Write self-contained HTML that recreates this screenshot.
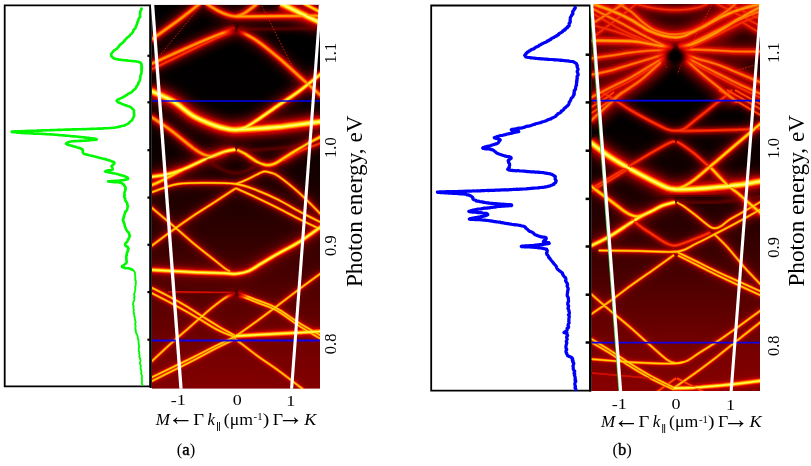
<!DOCTYPE html>
<html><head><meta charset="utf-8"><title>Figure</title>
<style>
html,body{margin:0;padding:0;background:#fff;}
svg{display:block}
text{font-family:"Liberation Serif",serif;fill:#000}
</style></head>
<body>
<svg width="811" height="466" viewBox="0 0 811 466">
<defs>
<filter id="bl1" x="-10%" y="-10%" width="120%" height="120%"><feGaussianBlur stdDeviation="1.0"/></filter>
<filter id="bl3" x="-15%" y="-15%" width="130%" height="130%"><feGaussianBlur stdDeviation="4.5"/></filter>
<filter id="bl2" x="-10%" y="-10%" width="120%" height="120%"><feGaussianBlur stdDeviation="2.4"/></filter>
<filter id="sb" x="-5%" y="-5%" width="110%" height="110%"><feGaussianBlur stdDeviation="0.35"/></filter>
<filter id="sb2" x="-5%" y="-5%" width="110%" height="110%"><feGaussianBlur stdDeviation="0.45"/></filter>
<radialGradient id="blob"><stop offset="0" stop-color="#000"/><stop offset="0.25" stop-color="#100000"/><stop offset="0.45" stop-color="#600000"/><stop offset="0.62" stop-color="#d00800"/><stop offset="0.8" stop-color="#ff6040"/><stop offset="1" stop-color="#fff"/></radialGradient>
<radialGradient id="blob2"><stop offset="0" stop-color="#700000"/><stop offset="0.3" stop-color="#c00400"/><stop offset="0.6" stop-color="#ff4020"/><stop offset="0.85" stop-color="#ffc0a0"/><stop offset="1" stop-color="#fff"/></radialGradient>
<linearGradient id="gA" x1="0" y1="0" x2="0" y2="1">
<stop offset="0" stop-color="#000"/><stop offset="0.30" stop-color="#030000"/><stop offset="0.45" stop-color="#160000"/><stop offset="0.6" stop-color="#300000"/><stop offset="0.75" stop-color="#520000"/><stop offset="0.9" stop-color="#740000"/><stop offset="1" stop-color="#830000"/>
</linearGradient>
<linearGradient id="gB" x1="0" y1="0" x2="0" y2="1">
<stop offset="0" stop-color="#100000"/><stop offset="0.18" stop-color="#000"/><stop offset="0.32" stop-color="#030000"/><stop offset="0.45" stop-color="#160000"/><stop offset="0.6" stop-color="#300000"/><stop offset="0.75" stop-color="#540000"/><stop offset="0.9" stop-color="#780000"/><stop offset="1" stop-color="#880000"/>
</linearGradient>
<clipPath id="cA2"><rect x="150.4" y="4.8" width="169.6" height="384.0"/></clipPath>
<clipPath id="cB2"><rect x="590.4" y="4.0" width="169.60000000000002" height="387.0"/></clipPath>
<clipPath id="cA"><rect x="151.8" y="4.8" width="168.2" height="384.0"/></clipPath>
<clipPath id="cB"><rect x="591.3" y="4.0" width="168.70000000000005" height="387.0"/></clipPath>
<g id="bandsA" fill="none" stroke-linecap="butt" stroke-linejoin="round">
<path id="a-orange" d="M150.0 40.5C153.2 38.2 163.8 30.8 169.5 26.7C175.2 22.6 179.3 19.7 184.4 15.8C189.5 11.9 197.4 5.5 200.0 3.5M206.0 3.5C208.0 4.7 214.3 8.9 218.0 10.8C221.7 12.7 225.0 14.1 228.0 15.0C231.0 15.9 233.5 16.6 236.2 16.3C238.9 16.1 240.4 15.6 244.0 13.5C247.6 11.4 255.2 5.2 257.5 3.5M236.0 16.5C239.2 16.5 246.8 16.5 255.0 16.4C263.2 16.3 273.8 16.1 285.0 16.0C296.2 15.9 315.8 15.7 322.0 15.6M150.0 64.5C156.7 61.5 179.2 51.2 190.0 46.5C200.8 41.8 207.5 39.0 215.0 36.0C222.5 33.0 231.7 30.0 235.0 28.8M237.6 29.8C240.8 31.6 250.1 36.1 257.0 40.8C263.9 45.5 271.6 52.0 278.8 58.0C286.0 64.0 292.8 70.6 300.0 77.0C307.2 83.4 318.3 93.2 322.0 96.5M150.0 116.0C153.6 118.5 164.3 125.5 171.5 130.8C178.7 136.1 187.8 144.1 193.0 148.0C198.2 151.9 200.2 152.9 203.0 154.2C205.8 155.5 207.5 156.0 210.0 156.0C212.5 156.0 215.3 155.1 218.0 154.3C220.7 153.5 224.7 151.8 226.0 151.3"/>
<path id="a-dots" d="M157.0 59.0L203.0 3.0M260.5 3.0L293.5 69.0"/>
<path id="a-bright" d="M281.0 3.5C284.2 5.1 293.2 9.7 300.0 13.0C306.8 16.3 318.3 21.8 322.0 23.5M150.0 90.5C153.8 92.3 165.8 97.0 173.0 101.2C180.2 105.4 186.1 111.8 193.0 115.8C199.9 119.8 208.6 123.2 214.4 125.4C220.2 127.6 224.4 128.3 228.0 129.0C231.6 129.7 231.1 129.9 236.0 129.8C240.9 129.7 250.2 129.1 257.3 128.6C264.4 128.1 271.7 127.7 278.8 127.0C285.9 126.3 292.8 125.2 300.0 124.3C307.2 123.4 318.3 122.0 322.0 121.5"/>
<path id="a-norm" d="M304.0 3.5L322.0 13.0M150.0 186.0C152.5 184.8 159.7 181.7 165.0 179.0C170.3 176.3 179.2 171.5 182.0 170.0M237.2 149.8C238.4 150.4 241.1 151.3 244.4 153.3C247.8 155.3 253.9 160.1 257.3 162.0C260.7 163.9 262.9 164.3 265.0 164.8C267.1 165.3 268.2 165.3 270.0 165.0C271.8 164.7 273.8 164.1 276.0 163.0C278.2 161.9 279.0 161.2 283.0 158.7C287.0 156.2 293.5 151.8 300.0 148.0C306.5 144.2 318.3 138.0 322.0 136.0"/>
<path id="a-red" d="M150.0 70.0C156.7 66.8 179.2 55.8 190.0 50.5C200.8 45.2 207.5 41.9 215.0 38.5C222.5 35.1 231.8 31.6 235.2 30.2M283.0 160.5C285.8 158.9 293.5 154.0 300.0 151.0C306.5 148.0 318.3 143.9 322.0 142.5"/>
<path id="a-faint" d="M238.0 29.5L322.0 28.0M239.0 150.0C242.0 150.0 246.8 150.7 257.0 150.0C267.2 149.3 289.2 147.2 300.0 145.8C310.8 144.4 318.3 142.1 322.0 141.3M206.0 157.0C207.4 158.3 210.9 162.6 214.4 165.0C217.9 167.4 223.4 170.2 227.0 171.5C230.6 172.8 232.8 173.1 236.0 173.0C239.2 172.9 242.4 172.3 246.0 171.0C249.6 169.7 254.6 166.4 257.3 165.0C260.0 163.6 261.2 162.9 262.0 162.5"/>
<path id="a-mid" d="M236.0 129.8C237.7 129.3 242.4 128.6 246.0 127.0C249.6 125.4 251.8 123.7 257.3 120.0C262.8 116.3 272.0 109.7 278.8 105.0C285.6 100.3 290.8 97.3 298.0 92.0C305.2 86.7 318.0 76.2 322.0 73.0M150.0 177.0C152.5 176.6 159.6 176.0 165.0 174.8C170.4 173.6 175.4 172.3 182.2 169.7C189.0 167.1 198.7 162.0 205.8 159.0C212.9 156.0 220.1 153.1 225.0 151.5C229.9 149.9 233.6 149.9 235.3 149.6M150.0 269.8C157.2 270.2 180.5 271.6 193.0 272.2C205.5 272.8 217.9 272.9 225.0 273.2C232.1 273.5 231.9 274.3 235.8 273.9C239.8 273.5 244.4 272.8 248.7 271.0C253.0 269.2 256.6 266.3 261.6 263.3C266.6 260.3 272.4 256.8 278.8 253.2C285.2 249.6 292.8 246.0 300.0 241.5C307.2 237.0 318.3 228.6 322.0 226.0M236.0 336.0C239.6 335.8 246.6 335.4 257.3 334.8C268.0 334.2 289.2 333.2 300.0 332.6C310.8 332.0 318.3 331.5 322.0 331.3"/>
<path id="a-thin" d="M236.0 184.0C237.8 183.3 243.1 181.3 246.6 179.7C250.1 178.1 254.1 175.9 257.0 174.5C259.9 173.1 261.8 171.8 264.0 171.5C266.2 171.2 267.5 171.7 270.0 172.5C272.5 173.3 273.8 172.9 278.8 176.4C283.8 179.9 292.8 187.1 300.0 193.6C307.2 200.1 318.3 211.8 322.0 215.5M150.0 193.0C152.5 192.1 160.3 189.0 165.0 187.5C169.7 186.0 171.6 184.8 178.0 184.0C184.4 183.2 193.9 182.9 203.6 182.9C213.3 182.9 227.1 182.8 236.0 184.0C244.9 185.2 249.9 187.7 257.0 190.4C264.1 193.1 271.6 196.4 278.8 200.0C286.0 203.6 292.8 208.0 300.0 211.8C307.2 215.6 318.3 221.1 322.0 223.0M235.8 188.2C239.4 189.8 250.1 194.6 257.3 198.0C264.5 201.4 271.7 204.9 278.8 208.5C285.9 212.1 292.8 215.9 300.0 219.5C307.2 223.1 318.3 228.2 322.0 230.0M235.8 188.2C232.2 190.5 221.5 197.6 214.4 202.2C207.3 206.8 199.4 211.7 193.0 216.0C186.6 220.3 183.0 222.8 175.8 228.0C168.6 233.2 154.3 243.8 150.0 247.0M150.0 206.3C154.3 209.9 168.6 221.9 175.8 228.0C183.0 234.1 186.6 237.7 193.0 243.0C199.4 248.3 209.1 255.8 214.4 260.0C219.7 264.2 222.4 266.6 225.0 268.5C227.6 270.4 229.2 271.0 230.0 271.5M235.2 293.4C234.7 293.6 234.1 293.6 232.3 294.4C230.5 295.2 228.0 295.9 224.6 298.2C221.2 300.4 215.6 304.8 211.7 307.9C207.8 311.0 205.7 313.1 201.4 316.9C197.1 320.6 191.0 326.0 186.0 330.4C181.0 334.8 177.5 337.6 171.5 343.0C165.5 348.4 153.6 359.7 150.0 363.0M238.0 292.9C241.2 294.1 250.9 297.7 257.3 300.2C263.7 302.7 269.1 304.0 276.2 307.9C283.3 311.8 292.4 318.8 300.0 323.5C307.6 328.2 318.3 334.1 322.0 336.2M239.0 295.3C242.1 296.5 251.1 300.1 257.3 302.6C263.5 305.1 269.1 306.3 276.2 310.3C283.3 314.3 292.4 321.6 300.0 326.5C307.6 331.4 318.3 337.4 322.0 339.6M150.0 286.8C153.3 288.5 164.0 293.8 170.0 297.0C176.0 300.2 180.8 302.9 186.0 306.0C191.2 309.1 196.0 312.4 201.4 315.8C206.8 319.2 212.5 322.9 218.2 326.3C223.9 329.7 232.9 334.4 235.8 336.0M150.0 292.2C153.3 293.9 164.0 299.3 170.0 302.5C176.0 305.7 181.2 308.6 186.0 311.3C190.8 314.0 193.5 315.7 198.9 318.8C204.3 321.9 212.0 327.1 218.2 330.2C224.3 333.3 232.9 336.3 235.8 337.5M236.0 336.0C239.6 333.5 250.2 326.0 257.3 320.8C264.4 315.6 271.7 310.1 278.8 304.7C285.9 299.3 292.8 294.0 300.0 288.6C307.2 283.2 318.3 275.2 322.0 272.5M150.0 378.2C157.2 374.7 182.3 362.6 193.0 357.3C203.7 352.0 207.2 350.0 214.4 346.5C221.6 343.0 232.4 337.9 236.0 336.2M150.0 382.0C157.2 378.4 182.3 366.1 193.0 360.6C203.7 355.1 207.2 352.9 214.4 349.2C221.6 345.5 232.4 340.4 236.0 338.6M236.0 339.5C239.6 342.2 250.2 350.6 257.3 355.8C264.4 361.0 271.7 365.6 278.8 370.8C285.9 376.0 295.8 383.8 300.0 387.0C304.2 390.2 303.3 389.5 304.0 390.0"/>
<path id="a-faint2" d="M168.0 291.7L233.7 292.9"/>
</g>
<g id="bandsB" fill="none">
<path id="b-redF" d="M629.0 2.0C632.8 3.0 644.3 6.5 652.0 7.8C659.7 9.1 667.5 10.0 675.0 10.0C682.5 10.0 691.0 9.1 697.0 7.8C703.0 6.5 708.7 3.0 711.0 2.0M590.0 39.5C595.1 35.6 612.7 22.3 620.5 16.3C628.3 10.3 634.2 5.6 637.0 3.5M590.0 11.8C595.1 14.7 611.8 24.8 620.5 29.3C629.2 33.8 635.9 36.3 642.2 39.0C648.5 41.7 653.9 43.8 658.5 45.6C663.1 47.4 668.1 49.3 670.0 50.0M590.0 24.5C595.0 25.9 610.8 30.1 620.0 33.0C629.2 35.9 637.0 39.1 645.0 42.0C653.0 44.9 664.2 49.1 668.0 50.5M594.0 102.0C596.6 100.2 603.3 94.9 609.5 91.3C615.7 87.7 623.9 84.5 631.0 80.4C638.1 76.4 646.6 70.8 652.4 67.0C658.2 63.2 663.7 59.2 666.0 57.6M690.0 47.7C694.2 45.8 706.8 40.0 715.0 36.0C723.2 32.0 731.2 27.7 739.0 24.0C746.8 20.3 758.2 15.7 762.0 14.0M684.0 57.0C685.8 58.2 689.5 61.3 695.0 64.5C700.5 67.7 709.6 72.2 716.8 76.0C724.0 79.8 730.7 83.2 738.2 87.0C745.7 90.8 758.0 96.6 762.0 98.5M713.5 2.0L762.0 26.8M724.0 2.0L762.0 20.0M741.2 21.7L762.0 34.2"/>
<path id="b-fuzzy" d="M590.0 3.0C593.6 4.3 605.0 8.0 611.9 10.8C618.8 13.6 625.3 16.7 631.4 20.0C637.5 23.3 643.3 27.9 648.7 30.5C654.1 33.1 659.5 34.8 664.0 35.9C668.5 37.0 672.5 37.3 676.0 37.3C679.5 37.3 681.5 36.9 684.8 35.7C688.1 34.6 692.1 32.2 695.7 30.4C699.3 28.6 702.0 27.4 706.5 25.0C711.0 22.6 717.4 18.8 722.8 16.3C728.2 13.8 732.5 11.9 739.0 9.8C745.5 7.7 758.2 4.5 762.0 3.5M590.0 40.6C596.9 40.7 620.9 40.6 631.4 41.2C641.9 41.9 646.7 43.4 653.0 44.5C659.3 45.6 666.6 47.2 669.3 47.7M679.0 47.5C681.7 46.8 689.0 45.5 695.3 43.0C701.6 40.5 709.6 36.2 716.8 32.2C723.9 28.3 730.7 23.7 738.2 19.3C745.7 14.9 758.0 8.2 762.0 6.0"/>
<path id="b-orangeF" d="M616.0 2.0C618.6 3.7 627.0 8.7 631.4 12.0C635.8 15.3 638.6 18.8 642.2 21.7C645.8 24.6 649.4 27.4 653.0 29.3C656.6 31.2 660.2 32.4 664.0 33.2C667.8 34.1 671.7 34.6 676.0 34.4C680.3 34.2 685.8 33.1 690.0 32.0C694.2 30.9 696.4 29.9 701.0 27.5C705.6 25.1 712.9 20.5 717.4 17.6C721.9 14.7 724.9 12.6 728.2 10.0C731.6 7.4 736.0 3.3 737.5 2.0M590.0 25.0L624.8 3.0M590.0 7.5C595.1 10.1 611.8 18.3 620.5 22.8C629.2 27.3 635.0 30.9 642.2 34.7C649.5 38.5 659.0 43.2 664.0 45.6C669.0 48.0 670.7 48.4 672.0 49.0M590.0 58.5C593.2 58.0 602.7 56.8 609.5 55.8C616.3 54.8 623.9 53.5 631.0 52.6C638.1 51.7 645.3 50.9 652.0 50.5C658.7 50.1 667.8 50.3 671.0 50.3M590.0 75.0C593.2 74.3 602.7 72.6 609.5 70.8C616.3 69.0 623.9 66.5 631.0 64.4C638.1 62.3 646.2 59.9 652.4 58.0C658.6 56.1 665.4 53.8 668.0 53.0M590.0 98.0C593.2 96.3 602.7 91.5 609.5 88.0C616.3 84.5 623.9 81.2 631.0 77.3C638.1 73.4 646.4 68.0 652.4 64.4C658.4 60.8 664.6 57.0 667.0 55.5M590.0 121.5C593.6 118.2 606.5 106.5 611.5 102.0C616.5 97.5 615.0 98.2 620.0 94.4C625.0 90.6 634.8 84.8 641.6 79.4C648.4 74.0 657.8 64.9 661.0 62.0M682.7 47.7C686.7 45.7 698.9 39.6 706.5 35.8C714.1 32.0 721.9 28.1 728.2 25.0C734.5 21.9 738.9 19.8 744.5 17.4C750.1 15.0 759.1 11.7 762.0 10.5M680.0 50.3C682.5 50.2 688.9 49.6 695.0 49.6C701.1 49.6 709.6 50.1 716.8 50.4C724.0 50.7 730.7 51.3 738.2 51.5C745.7 51.7 758.0 51.5 762.0 51.5M682.0 52.5C684.2 53.4 689.5 56.0 695.3 58.0C701.1 60.0 709.6 61.9 716.8 64.4C723.9 66.9 730.7 69.9 738.2 73.0C745.7 76.1 758.0 81.3 762.0 83.0M683.0 55.0C685.0 56.2 689.4 59.0 695.0 62.0C700.6 65.0 709.6 69.4 716.8 73.0C724.0 76.6 730.7 80.1 738.2 83.7C745.7 87.3 758.0 92.7 762.0 94.5M686.0 60.0C689.3 62.9 699.1 71.6 706.0 77.3C712.9 83.0 722.3 90.3 727.5 94.4C732.7 98.5 735.4 100.7 737.0 102.0"/>
<path id="b-dots" d="M623.5 2.0C626.5 6.3 636.1 19.8 641.6 28.0C647.1 36.2 652.5 44.8 656.7 51.5C660.9 58.2 665.3 65.2 667.0 68.0M713.5 2.0C710.5 7.8 700.5 26.5 695.3 36.5C690.1 46.5 685.4 56.0 682.4 62.2C679.4 68.5 678.3 72.0 677.5 74.0M736.0 70.8L754.0 65.2"/>
<path id="b-dim" d="M590.0 114.0C593.5 111.7 605.7 103.7 611.0 100.0C616.3 96.3 620.2 93.3 622.0 92.0M590.0 108.0C592.7 106.3 602.0 100.7 606.0 98.0C610.0 95.3 612.7 93.0 614.0 92.0M719.0 90.0C722.5 92.2 732.8 98.7 740.0 103.0C747.2 107.3 758.3 113.8 762.0 116.0M727.0 90.0L762.0 110.0M735.0 90.0L762.0 105.0M676.0 378.3L656.7 392.0M677.0 378.3L703.9 392.0"/>
<path id="b-red" d="M599.0 90.5C601.8 92.2 610.7 97.4 616.0 100.7C621.3 104.0 624.9 106.8 631.0 110.4C637.1 114.0 646.3 119.0 652.4 122.2C658.5 125.4 663.5 128.0 667.4 129.4C671.3 130.8 673.1 130.9 676.0 130.8C678.9 130.7 681.4 130.4 684.6 128.6C687.8 126.8 689.9 124.3 695.3 120.0C700.7 115.7 711.4 107.2 716.8 102.9C722.2 98.6 725.0 96.5 727.5 94.3C730.0 92.1 731.2 90.7 732.0 90.0M676.0 130.8C679.2 130.8 684.9 131.0 695.3 130.8C705.7 130.6 727.1 130.1 738.2 129.7C749.3 129.3 758.0 128.5 762.0 128.3M675.1 141.5C674.2 141.7 673.3 141.1 669.5 142.9C665.7 144.7 658.8 148.5 652.4 152.2C646.0 155.9 638.1 160.7 631.0 165.0C623.9 169.3 616.3 173.9 609.5 178.0C602.7 182.1 593.2 187.4 590.0 189.3M631.0 167.3C627.4 169.5 616.3 176.4 609.5 180.5C602.7 184.6 593.2 190.1 590.0 192.0M676.9 141.6C678.1 142.3 680.9 143.9 684.0 146.0C687.1 148.1 689.8 149.8 695.3 154.4C700.8 159.0 710.3 167.8 716.8 173.7C723.2 179.6 729.0 184.9 734.0 190.0C739.0 195.1 742.1 199.8 746.8 204.0C751.5 208.2 759.5 213.2 762.0 215.0M631.5 218.2C632.8 219.5 636.0 223.1 639.5 225.8C643.0 228.5 648.0 231.5 652.4 234.4C656.8 237.3 662.1 241.2 666.0 243.0C669.9 244.8 671.1 246.2 676.0 245.5C680.9 244.8 689.6 240.9 695.3 238.7C701.0 236.5 707.8 233.5 710.3 232.5"/>
<path id="b-bright" d="M590.0 142.0C593.2 144.4 602.7 151.9 609.5 156.5C616.3 161.1 623.9 165.4 631.0 169.4C638.1 173.4 646.3 177.6 652.4 180.7C658.5 183.8 663.5 186.4 667.4 187.8C671.3 189.2 671.4 189.1 676.0 189.3C680.6 189.5 688.5 189.2 695.3 188.9C702.1 188.6 709.6 187.8 716.8 187.2C723.9 186.5 730.7 186.0 738.2 185.0C745.7 184.0 758.0 181.7 762.0 181.0"/>
<path id="b-norm" d="M676.0 189.3C677.4 188.8 681.4 187.7 684.6 186.0C687.8 184.3 689.9 183.2 695.3 179.0C700.7 174.8 709.6 166.9 716.8 160.8C723.9 154.7 730.7 149.0 738.2 142.6C745.7 136.2 758.0 125.8 762.0 122.5M590.0 185.5C593.2 187.9 603.8 195.8 609.5 200.0C615.2 204.2 620.4 208.5 624.0 211.0C627.6 213.5 628.8 214.1 631.0 215.0C633.2 215.9 635.0 216.5 637.0 216.5C639.0 216.5 642.0 215.2 643.0 215.0M711.0 168.0C713.8 170.8 723.0 180.7 727.5 185.0C732.0 189.3 732.5 188.7 738.2 193.6C744.0 198.5 758.0 211.0 762.0 214.5"/>
<path id="b-mid" d="M590.0 246.3C593.2 244.7 602.7 240.4 609.5 236.5C616.3 232.6 625.6 226.0 631.0 222.6C636.4 219.2 638.0 218.0 641.6 216.0C645.2 214.0 648.8 212.6 652.4 210.8C656.0 209.0 659.2 206.8 663.0 205.4C666.8 204.0 673.0 202.7 675.0 202.2M673.8 388.3C677.4 388.2 688.1 388.0 695.3 387.6C702.5 387.2 709.6 386.5 716.8 385.8C723.9 385.1 730.7 384.6 738.2 383.7C745.7 382.8 758.0 381.0 762.0 380.5"/>
<path id="b-thin" d="M677.0 202.3C678.2 203.0 681.0 204.4 684.0 206.5C687.0 208.6 690.9 211.6 695.3 215.0C699.7 218.4 706.7 224.7 710.3 226.9C713.9 229.1 714.8 228.2 716.8 228.0C718.8 227.8 720.0 226.8 722.0 225.5C724.0 224.2 725.9 222.1 728.6 220.3C731.3 218.5 732.6 217.9 738.2 214.7C743.8 211.5 758.0 203.3 762.0 201.0M598.7 250.5C605.6 250.6 626.8 250.8 640.0 251.0C653.2 251.2 668.8 252.7 678.0 251.5C687.2 250.3 689.9 246.5 695.3 244.0C700.7 241.5 703.2 240.2 710.3 236.5C717.4 232.8 729.4 226.7 738.0 222.0C746.6 217.3 758.0 210.8 762.0 208.5M714.6 234.4C716.8 236.6 723.6 243.0 727.5 247.3C731.4 251.6 735.0 256.2 738.2 260.0C741.4 263.8 742.8 265.7 746.8 270.0C750.8 274.3 759.5 283.3 762.0 286.0M674.0 255.0C670.4 257.6 659.6 265.3 652.4 270.4C645.2 275.5 638.1 280.2 631.0 285.4C623.9 290.6 616.3 296.6 609.5 301.5C602.7 306.4 593.2 312.8 590.0 315.0M678.0 252.5C680.9 253.9 688.8 257.6 695.3 260.8C701.8 264.0 709.6 268.1 716.8 271.5C723.9 274.9 730.7 277.8 738.2 281.2C745.7 284.6 758.0 290.2 762.0 292.0M678.0 255.5C680.9 256.9 688.8 260.9 695.3 264.2C701.8 267.4 709.6 271.5 716.8 275.0C723.9 278.5 730.7 281.5 738.2 285.0C745.7 288.5 758.0 294.2 762.0 296.0M590.0 293.0C593.2 295.8 602.7 304.2 609.5 310.0C616.3 315.8 623.9 321.8 631.0 328.0C638.1 334.2 646.3 341.9 652.4 347.2C658.5 352.5 663.5 357.3 667.4 360.0C671.3 362.7 672.8 363.1 676.0 363.3C679.2 363.5 682.8 362.8 686.7 361.0C690.6 359.2 694.6 355.8 699.6 352.6C704.6 349.4 710.4 346.1 716.8 341.8C723.2 337.5 730.7 332.2 738.2 326.8C745.7 321.4 758.0 312.4 762.0 309.5M590.0 359.0C596.8 359.5 619.3 361.4 631.0 362.2C642.7 362.9 652.5 363.3 660.0 363.5C667.5 363.7 672.0 363.7 676.0 363.4C680.0 363.1 682.7 362.1 684.0 361.9M590.0 338.0C593.2 340.0 602.7 345.7 609.5 350.0C616.3 354.3 623.9 359.5 631.0 364.0C638.1 368.5 645.3 372.9 652.4 376.8C659.5 380.7 670.2 385.7 673.8 387.5M590.0 341.5C593.2 343.4 602.7 348.8 609.5 353.0C616.3 357.2 623.9 362.6 631.0 367.0C638.1 371.4 645.3 375.7 652.4 379.5C659.5 383.3 670.2 388.0 673.8 389.7M673.8 388.0C677.4 385.5 688.1 378.2 695.3 373.0C702.5 367.8 709.6 362.4 716.8 356.9C723.9 351.3 730.7 345.7 738.2 339.7C745.7 333.7 758.0 324.1 762.0 321.0"/>
<path id="b-faint" d="M678.0 202.5C684.5 202.4 702.8 203.2 716.8 202.2C730.8 201.2 754.5 197.4 762.0 196.5"/>
<path id="b-faint2" d="M590.0 372.8L652.4 378.3"/>
</g>
</defs>
<rect width="811" height="466" fill="#fff"/>

<!-- panel a : heat map -->
<g clip-path="url(#cA)" fill="none" stroke-linejoin="round">
<rect x="151.8" y="4.8" width="168.2" height="384.0" fill="url(#gA)"/>
<g filter="url(#sb2)">
<use href="#a-mid" stroke="#800000" stroke-width="20" opacity="0.4" filter="url(#bl3)"/>
<use href="#a-bright" stroke="#900000" stroke-width="24" opacity="0.55" filter="url(#bl3)"/>
<use href="#a-orange" stroke="#780000" stroke-width="18" opacity="0.38" filter="url(#bl3)"/>
<use href="#a-thin" stroke="#780000" stroke-width="14" opacity="0.3" filter="url(#bl3)"/>
<use href="#a-norm" stroke="#780000" stroke-width="18" opacity="0.38" filter="url(#bl3)"/>
<use href="#a-mid" stroke="#a00000" stroke-width="11" opacity="0.5" filter="url(#bl2)"/>
<use href="#a-bright" stroke="#b80000" stroke-width="15" opacity="0.6" filter="url(#bl2)"/>
<use href="#a-red" stroke="#700000" stroke-width="14" opacity="0.32" filter="url(#bl3)"/>
<use href="#a-orange" stroke="#980000" stroke-width="10" opacity="0.5" filter="url(#bl2)"/>
<use href="#a-thin" stroke="#980000" stroke-width="8" opacity="0.45" filter="url(#bl2)"/>
<use href="#a-norm" stroke="#980000" stroke-width="10" opacity="0.5" filter="url(#bl2)"/>
<use href="#a-mid" stroke="#d40000" stroke-width="7.78" opacity="0.8" filter="url(#bl1)"/>
<use href="#a-bright" stroke="#d80000" stroke-width="11.93" opacity="0.8" filter="url(#bl1)"/>
<use href="#a-red" stroke="#880000" stroke-width="8" opacity="0.45" filter="url(#bl2)"/>
<use href="#a-orange" stroke="#d00000" stroke-width="7.8" opacity="0.8" filter="url(#bl1)"/>
<use href="#a-thin" stroke="#d00000" stroke-width="5.06" opacity="0.75" filter="url(#bl1)"/>
<use href="#a-norm" stroke="#d00000" stroke-width="7.5" opacity="0.8" filter="url(#bl1)"/>
<use href="#a-mid" stroke="#ff2800" stroke-width="4.97" opacity="1"/>
<use href="#a-bright" stroke="#ff2800" stroke-width="7.67" opacity="1"/>
<use href="#a-red" stroke="#c00000" stroke-width="5.86" opacity="0.75" filter="url(#bl1)"/>
<use href="#a-orange" stroke="#f82000" stroke-width="4.55" opacity="1"/>
<use href="#a-thin" stroke="#ff3000" stroke-width="2.86" opacity="1"/>
<use href="#a-norm" stroke="#ff2800" stroke-width="4.38" opacity="1"/>
<use href="#a-mid" stroke="#ff8c00" stroke-width="3.46" opacity="1"/>
<use href="#a-bright" stroke="#ff8c00" stroke-width="5.54" opacity="1"/>
<use href="#a-faint" stroke="#600000" stroke-width="6" opacity="0.45" filter="url(#bl2)"/>
<use href="#a-faint2" stroke="#a00000" stroke-width="4.5" opacity="0.5" filter="url(#bl1)"/>
<use href="#a-red" stroke="#e81800" stroke-width="3.05" opacity="1"/>
<use href="#a-orange" stroke="#ff7400" stroke-width="2.73" opacity="1"/>
<use href="#a-thin" stroke="#ff9800" stroke-width="1.87" opacity="1"/>
<use href="#a-norm" stroke="#ff8c00" stroke-width="2.88" opacity="1"/>
<use href="#a-mid" stroke="#ffe000" stroke-width="2.27" opacity="1"/>
<use href="#a-bright" stroke="#ffe000" stroke-width="3.83" opacity="1"/>
<use href="#a-faint" stroke="#900000" stroke-width="1.8" opacity="0.7" filter="url(#bl1)"/>
<use href="#a-faint2" stroke="#d81000" stroke-width="1.7" opacity="0.9" filter="url(#sb2)"/>
<use href="#a-dots" stroke="#e02800" stroke-width="0.9" opacity="0.9" stroke-dasharray="1.7 1.5"/>
<use href="#a-red" stroke="#ff4000" stroke-width="1.34" opacity="0.8"/>
<use href="#a-orange" stroke="#ffa800" stroke-width="1.3" opacity="0.95"/>
<use href="#a-thin" stroke="#ffe400" stroke-width="0.94" opacity="1"/>
<use href="#a-norm" stroke="#ffdc00" stroke-width="1.5" opacity="1"/>
<use href="#a-mid" stroke="#ffff70" stroke-width="0.97" opacity="1"/>
<use href="#a-bright" stroke="#ffff70" stroke-width="1.85" opacity="1"/>
</g>
<ellipse cx="236.4" cy="294" rx="13" ry="7" fill="url(#blob2)" style="mix-blend-mode:multiply"/>
<ellipse cx="236.3" cy="30.5" rx="14" ry="8" fill="url(#blob2)" style="mix-blend-mode:multiply"/>
<line x1="151.8" y1="101.0" x2="320.0" y2="101.0" stroke="#0000f0" stroke-width="1.7"/>
<line x1="151.8" y1="340.5" x2="320.0" y2="340.5" stroke="#1000e8" stroke-width="1.8"/>
</g>
<!-- panel a : spectrum box -->
<g filter="url(#sb)">
<path d="M4.7 5.4H150.2V386.3H4.7Z" fill="none" stroke="#000" stroke-width="1.8"/>
<line x1="150.7" y1="5" x2="150.7" y2="388" stroke="#000" stroke-width="2.2"/>
<line x1="147.4" y1="55.8" x2="150.5" y2="55.8" stroke="#000" stroke-width="2.2"/><line x1="147.4" y1="102.3" x2="150.5" y2="102.3" stroke="#000" stroke-width="2.2"/><line x1="147.4" y1="150.2" x2="150.5" y2="150.2" stroke="#000" stroke-width="2.2"/><line x1="147.4" y1="197.6" x2="150.5" y2="197.6" stroke="#000" stroke-width="2.2"/><line x1="147.4" y1="244.8" x2="150.5" y2="244.8" stroke="#000" stroke-width="2.2"/><line x1="147.4" y1="292.1" x2="150.5" y2="292.1" stroke="#000" stroke-width="2.2"/><line x1="147.4" y1="339.7" x2="150.5" y2="339.7" stroke="#000" stroke-width="2.2"/>
<path d="M141.4 8.5L141.6 9.0L141.4 9.6L140.9 10.3L140.5 11.0L140.2 11.7L140.3 12.7L140.0 13.5L140.1 14.5L140.0 15.4L140.2 16.2L140.0 17.2L139.2 17.8L138.8 18.7L138.4 19.4L138.4 20.1L138.2 20.9L137.5 21.7L137.6 22.5L137.1 23.4L136.8 24.1L136.8 25.0L136.2 25.7L135.9 26.5L135.8 27.2L135.7 27.8L135.0 28.7L134.1 29.3L133.4 30.1L133.4 30.7L133.3 31.3L132.8 32.0L132.3 32.7L131.9 33.4L131.2 34.0L130.2 34.6L129.9 35.3L129.6 35.8L128.8 36.5L127.9 37.1L127.3 37.6L126.6 38.3L126.0 38.8L125.6 39.5L124.8 40.0L124.6 40.7L124.4 41.2L123.5 41.7L122.8 42.4L122.7 42.8L121.7 43.4L121.0 44.0L120.6 44.5L119.7 45.0L119.2 45.7L119.1 46.4L118.3 47.0L117.7 47.5L117.3 48.3L116.8 48.9L115.8 49.4L114.8 50.0L114.1 50.4L113.6 50.9L113.3 51.4L112.3 52.5L111.6 53.4L111.0 54.3L111.3 55.0L111.2 55.8L111.5 56.4L112.4 57.1L112.9 57.6L113.3 58.0L114.3 58.5L116.0 58.9L116.1 59.2L117.0 59.2L117.8 59.3L118.6 59.6L119.7 59.7L120.2 59.7L120.7 59.9L121.8 60.0L122.6 60.0L123.9 60.2L125.0 60.3L126.0 60.4L126.4 60.4L127.1 60.4L127.6 60.6L128.3 60.7L129.9 60.8L131.1 61.0L132.2 61.0L132.6 61.0L133.2 61.1L134.4 61.3L135.6 61.3L136.4 61.5L136.7 61.6L137.9 61.7L138.7 61.8L138.9 62.0L139.3 62.2L140.8 62.8L141.2 63.5L141.6 64.1L141.3 65.1L141.9 66.6L141.4 67.2L142.0 67.9L141.7 68.6L141.3 69.3L141.8 70.3L141.6 71.3L141.4 72.2L141.6 73.0L141.1 73.9L140.8 74.8L140.6 75.7L140.3 76.6L140.2 77.3L140.3 78.2L140.1 79.1L139.9 79.8L139.7 80.6L139.4 81.4L138.7 82.3L138.3 82.9L138.4 83.7L137.9 84.4L137.7 85.2L136.9 85.8L136.4 86.4L136.4 87.1L135.9 87.8L135.7 88.4L135.0 89.0L134.3 89.6L133.6 90.1L132.9 90.7L132.4 91.3L132.1 91.7L131.2 92.4L130.7 92.7L129.4 93.3L128.4 93.7L127.5 94.3L127.3 94.8L126.2 95.2L125.7 95.5L125.3 96.1L124.2 96.5L123.4 96.9L123.3 97.3L122.2 97.6L121.2 98.1L119.9 98.6L119.3 99.0L118.4 99.5L117.3 99.8L117.1 100.3L116.6 100.8L117.2 101.2L117.3 101.6L117.8 102.2L118.8 102.5L119.9 103.1L121.4 103.5L122.1 104.1L122.9 104.3L123.3 104.5L124.5 104.8L125.0 105.2L126.2 105.4L126.8 105.7L127.4 106.0L128.5 106.2L129.5 106.6L130.0 106.8L130.8 107.2L131.4 107.7L132.0 108.3L132.7 109.0L133.6 109.7L133.9 110.5L134.0 111.4L133.8 112.1L134.2 113.0L133.8 113.8L134.2 114.7L134.1 115.7L133.7 116.7L133.2 117.5L133.0 118.5L132.4 119.3L132.2 120.0L131.6 120.6L130.7 121.1L130.0 121.8L129.6 122.2L128.9 122.9L128.9 123.3L128.0 123.7L127.1 124.2L126.1 124.6L125.1 125.1L124.7 125.4L123.8 125.7L123.1 125.7L122.2 125.9L121.9 126.1L121.2 126.3L120.4 126.4L119.8 126.6L119.1 126.6L118.6 126.8L118.3 127.0L117.9 127.1L117.2 127.3L116.2 127.3L115.7 127.4L114.8 127.6L113.2 127.7L112.6 127.8L111.5 127.9L109.8 128.0L108.6 128.2L107.5 128.3L106.9 128.3L106.4 128.3L105.4 128.2L104.5 128.3L103.7 128.4L103.4 128.4L102.9 128.5L102.2 128.4L101.8 128.6L100.9 128.6L100.3 128.5L99.6 128.6L98.4 128.6L97.9 128.6L97.3 128.8L96.4 128.7L95.5 128.8L94.9 128.8L94.1 128.8L92.8 128.8L92.3 128.9L91.4 128.8L90.1 128.9L89.6 129.0L88.9 129.0L88.0 129.0L87.0 129.0L86.5 129.0L85.9 129.2L84.3 129.1L83.7 129.2L82.7 129.1L81.5 129.3L80.5 129.2L79.5 129.2L79.2 129.2L78.5 129.3L77.8 129.3L76.4 129.4L75.5 129.3L74.2 129.4L73.5 129.4L72.4 129.4L71.6 129.5L70.5 129.5L70.2 129.4L69.8 129.6L69.1 129.5L67.9 129.6L67.4 129.6L66.2 129.6L65.1 129.6L64.0 129.8L63.2 129.8L62.3 129.7L61.7 129.7L60.9 129.9L60.5 129.9L59.6 129.9L59.0 129.9L58.0 129.9L57.1 130.0L56.3 130.0L55.0 130.0L54.4 130.0L53.3 130.1L52.1 130.2L51.7 130.1L50.7 130.1L49.7 130.2L48.4 130.2L47.3 130.3L46.6 130.3L46.1 130.4L45.0 130.3L43.8 130.3L42.9 130.4L41.9 130.4L41.2 130.6L40.6 130.5L39.6 130.6L38.6 130.6L37.4 130.6L37.1 130.6L36.2 130.7L35.6 130.7L34.4 130.7L33.5 130.7L33.2 130.8L32.5 130.7L31.1 130.9L30.7 130.9L29.9 130.8L29.0 131.0L28.5 131.0L28.1 130.9L26.8 130.9L26.2 131.1L25.9 131.1L25.2 131.1L24.4 131.1L23.3 131.2L22.7 131.2L22.5 131.1L21.6 131.1L21.4 131.2L19.1 131.2L17.6 131.4L16.1 131.4L15.1 131.4L13.9 131.5L13.7 131.5L13.3 131.6L12.4 131.6L12.5 131.7L11.9 131.6L11.8 131.8L11.7 131.8L12.0 131.9L11.9 131.9L12.1 132.0L12.8 132.1L13.6 132.2L14.2 132.2L15.4 132.3L16.4 132.4L17.1 132.6L18.2 132.8L19.8 132.7L21.2 132.9L22.0 133.0L22.3 133.0L22.8 133.1L23.3 133.0L23.8 133.1L25.1 133.2L26.0 133.2L27.0 133.2L27.2 133.3L28.1 133.2L29.0 133.3L29.5 133.3L30.0 133.3L30.7 133.4L32.1 133.4L33.2 133.4L33.7 133.6L34.8 133.5L35.1 133.6L35.9 133.7L36.6 133.6L38.1 133.6L38.8 133.8L39.9 133.7L40.3 133.8L41.7 133.8L42.7 134.0L43.3 133.9L44.6 134.0L45.0 134.1L45.8 134.1L46.3 134.2L47.8 134.2L49.0 134.2L49.4 134.3L50.7 134.4L51.2 134.4L52.0 134.5L53.2 134.5L54.1 134.6L54.9 134.7L55.6 134.7L56.1 134.8L57.2 134.8L57.6 135.0L58.3 134.9L58.9 135.1L59.9 135.2L61.4 135.3L62.0 135.2L62.6 135.4L63.9 135.4L64.6 135.5L65.7 135.6L66.8 135.7L67.7 135.7L68.8 135.8L69.5 135.9L70.5 136.0L71.0 136.1L71.6 136.2L72.7 136.2L73.5 136.4L74.4 136.4L75.5 136.5L76.7 136.5L77.2 136.7L78.1 136.8L78.3 136.8L78.8 136.9L80.2 137.0L81.2 137.0L82.0 137.1L82.2 137.2L83.2 137.2L83.7 137.4L84.0 137.4L84.3 137.4L84.9 137.6L85.7 137.6L86.9 137.8L88.8 137.9L90.0 138.1L91.6 138.3L92.2 138.3L93.2 138.6L94.3 138.6L94.7 138.8L95.3 138.9L95.7 139.1L96.0 139.2L96.3 139.3L96.8 139.5L96.5 139.5L96.4 139.6L95.3 139.8L94.8 139.9L94.0 140.0L93.2 140.0L91.8 140.1L91.1 140.3L89.7 140.3L88.7 140.4L87.4 140.4L86.6 140.6L85.3 140.6L85.1 140.7L84.0 140.6L83.7 140.8L82.7 140.7L82.1 140.8L81.3 140.9L80.3 140.8L79.4 140.9L78.1 141.0L77.3 141.0L76.0 141.0L75.2 141.1L74.0 141.1L73.5 141.3L72.3 141.3L72.1 141.3L71.7 141.3L71.0 141.5L69.6 141.8L68.2 142.2L67.3 142.7L66.7 143.1L66.0 143.6L66.3 144.0L66.9 144.3L67.3 144.5L68.0 144.8L68.6 145.1L69.4 145.3L70.7 145.5L72.0 145.8L73.2 146.2L73.8 146.4L74.6 146.6L75.8 146.8L76.7 147.2L77.6 147.4L77.9 147.7L78.8 147.9L79.9 148.1L80.7 148.5L80.8 148.7L81.6 148.9L82.6 149.6L83.0 150.3L82.8 151.2L82.6 151.9L83.0 152.6L83.3 153.2L83.7 153.7L84.7 153.9L85.1 154.2L85.6 154.4L86.7 154.6L87.9 154.8L88.6 155.1L89.1 155.3L90.3 155.5L91.5 155.7L92.9 156.0L93.1 156.2L93.7 156.3L94.6 156.5L95.6 156.7L96.3 157.0L97.1 157.1L97.6 157.2L98.1 157.5L99.3 157.7L100.3 158.0L100.8 158.1L102.0 158.2L102.4 158.5L103.2 158.7L104.0 158.9L105.1 159.1L106.0 159.3L106.4 159.6L106.9 159.6L107.9 160.1L109.5 160.4L110.4 160.7L110.9 161.1L112.0 161.4L113.0 161.7L114.0 162.1L114.1 162.4L114.1 162.7L114.5 163.0L114.2 163.7L113.4 164.3L113.1 164.9L111.9 165.6L111.5 166.2L112.0 167.0L112.4 167.8L112.5 168.7L112.7 169.4L111.7 169.7L111.2 169.9L110.3 170.2L108.7 170.3L107.3 170.5L106.2 170.9L105.7 171.1L105.3 171.2L105.1 171.5L105.6 171.7L105.6 171.8L106.6 171.9L107.5 172.1L107.9 172.2L109.0 172.5L110.2 172.6L111.4 172.7L112.0 173.0L113.1 173.2L114.3 173.4L115.1 173.6L116.1 173.8L116.8 174.0L117.7 174.1L118.4 174.4L119.0 174.7L119.9 174.8L120.8 175.2L121.9 175.4L122.6 175.6L123.9 176.0L124.9 176.3L125.2 176.5L125.8 176.7L126.7 177.0L128.0 178.1L127.9 179.1L127.0 179.2L126.2 179.3L126.1 179.7L125.3 179.8L124.5 179.9L123.1 180.1L122.4 180.3L121.2 180.4L119.7 180.6L119.0 180.7L118.2 180.7L117.8 180.8L116.9 180.9L115.1 180.9L114.1 181.0L112.9 181.1L112.0 181.0L111.3 181.0L110.6 181.1L109.2 181.2L109.0 181.3L108.1 181.3L108.2 181.4L108.2 181.5L108.6 181.6L109.1 181.7L109.9 181.6L111.2 181.8L111.8 181.9L112.8 182.0L114.3 182.1L115.6 182.1L116.6 182.2L118.1 182.2L119.2 182.4L119.5 182.5L120.5 182.7L121.5 183.1L122.1 183.5L123.0 184.0L123.8 184.5L124.0 185.0L124.2 185.6L125.0 186.2L125.0 186.7L125.6 187.4L125.2 188.6L125.7 189.2L125.2 189.9L125.3 190.8L124.8 191.6L124.5 192.5L124.5 193.4L124.3 194.4L124.8 195.4L124.2 196.4L124.1 197.2L124.9 198.0L125.2 198.8L125.1 199.6L125.2 200.3L125.7 201.0L126.2 201.9L126.9 202.7L127.3 203.5L127.2 204.3L127.4 205.1L128.0 205.8L127.8 206.6L127.5 207.3L127.4 208.2L127.3 209.0L127.0 209.8L126.5 210.6L125.8 211.4L125.0 212.1L125.1 212.9L124.9 213.6L124.5 214.3L124.3 215.2L124.2 216.1L123.6 216.8L123.7 217.5L123.5 218.4L123.0 219.1L122.8 219.9L123.5 220.8L123.3 221.5L123.6 222.3L123.9 223.1L124.5 223.9L124.6 224.8L124.7 225.6L125.0 226.4L125.2 227.2L125.6 227.9L125.9 228.7L126.0 229.4L126.7 230.3L127.3 231.1L127.7 231.9L128.9 232.6L129.0 233.4L129.4 234.0L129.3 235.0L129.9 235.8L129.7 236.5L129.2 237.2L128.8 237.9L128.8 238.7L128.2 239.4L127.7 240.2L127.5 241.0L127.2 241.7L126.4 242.5L125.9 243.1L125.2 243.9L125.1 244.4L125.2 245.3L125.8 246.0L126.8 246.5L127.9 247.2L127.8 247.8L128.6 248.7L128.1 249.4L128.2 250.0L127.6 250.9L127.7 251.6L127.1 252.4L126.8 253.4L126.6 254.2L126.9 255.1L126.3 255.9L126.3 256.7L126.3 257.4L126.5 258.4L126.2 259.4L126.5 260.3L126.7 261.1L126.8 261.8L126.4 262.5L126.0 263.2L125.2 263.9L124.4 264.7L123.5 265.4L122.3 266.0L122.0 266.5L122.3 267.1L122.5 267.3L123.5 267.4L124.2 267.7L124.4 267.9L125.7 268.1L126.5 268.3L127.6 268.3L128.9 268.4L129.8 268.6L130.3 268.9L130.8 269.0L131.9 269.5L132.4 269.8" fill="none" stroke="#00f800" stroke-width="2.6" stroke-linejoin="round" stroke-linecap="round"/>
<path d="M131.9 269.5L132.4 269.8L133.0 270.3L133.8 270.8L134.5 271.7L134.6 272.3L134.8 273.1L135.1 273.8L135.0 274.5L135.1 275.4L135.4 276.4L135.1 277.5L135.7 278.6L135.3 279.2L135.0 279.8L135.7 280.6L135.7 281.4L136.0 282.1L135.8 282.8L135.8 283.6L135.7 284.4L135.6 285.2L135.6 286.0L135.1 286.9L135.3 287.9L135.2 288.7L135.3 289.7L135.1 290.5L134.8 291.5L134.6 292.2L134.7 293.1L134.2 293.8L133.9 294.5L134.4 295.4L134.7 296.3L134.0 297.1L134.2 298.1L134.5 298.9L134.2 299.7L134.1 300.6L133.7 301.4L133.3 302.4L133.1 303.3L133.0 304.1L133.0 304.8L133.4 305.6L133.7 306.4L133.2 307.2L133.5 308.0L133.7 308.5L133.8 309.7L133.7 310.7L133.5 311.6L133.9 312.3L133.6 313.2L134.2 313.9L134.2 314.8L134.2 315.6L134.5 316.2L134.6 317.1L134.8 317.8L134.7 318.6L134.9 319.4L135.2 320.2L135.2 321.1L135.7 321.9L135.6 322.6L135.1 323.6L135.4 324.3L135.2 325.1L135.7 326.0L135.6 326.7L135.4 327.6L135.3 328.4L135.5 329.2L135.9 330.0L135.5 330.8L135.7 331.6L136.3 332.5L136.0 333.2L136.7 334.0L137.0 334.7L137.5 335.6L137.7 336.4L137.6 337.1L137.9 338.1L137.8 338.9L138.5 339.8L138.6 340.8L138.6 341.5L138.4 342.3L138.8 343.1L138.5 343.9L138.9 344.6L139.0 345.6L139.3 346.4L139.2 347.2L138.8 348.0L138.7 349.0L138.8 349.8L138.9 350.7L138.8 351.5L139.5 352.4L139.1 353.3L139.5 354.1L139.6 355.0L139.6 355.7L139.2 356.7L139.8 357.5L139.9 358.3L140.1 359.2L140.5 360.1L140.6 360.9L140.2 361.6L140.0 362.4L139.8 363.2L140.2 364.2L140.3 365.0L140.9 365.7L140.9 366.6L140.5 367.5L140.5 368.3L140.9 369.2L141.1 370.0L141.1 370.8L141.6 371.8L141.2 372.6L141.1 373.5L141.7 374.6L141.9 375.4L142.0 376.5L142.0 377.5L141.5 378.3L141.9 379.4L142.1 380.2L142.2 381.1L141.8 381.9L141.8 382.6L142.0 383.3L141.9 383.9L142.3 384.5L142.5 384.9" fill="none" stroke="#00f800" stroke-width="1.8" stroke-linejoin="round" stroke-linecap="round"/>
</g>

<g clip-path="url(#cA2)">
<line x1="152.5" y1="4" x2="181.1" y2="390" stroke="#fff" stroke-width="3.3"/>
<line x1="320.4" y1="4" x2="291.5" y2="390" stroke="#fff" stroke-width="3.1"/>
</g>
<!-- panel b : heat map -->
<g clip-path="url(#cB)" fill="none" stroke-linejoin="round">
<rect x="591.3" y="4.0" width="168.70000000000005" height="387.0" fill="url(#gB)"/>
<g filter="url(#sb2)">
<use href="#b-mid" stroke="#800000" stroke-width="20" opacity="0.4" filter="url(#bl3)"/>
<use href="#b-bright" stroke="#900000" stroke-width="24" opacity="0.55" filter="url(#bl3)"/>
<use href="#b-fuzzy" stroke="#800000" stroke-width="24" opacity="0.42" filter="url(#bl3)"/>
<use href="#b-orangeF" stroke="#8c0000" stroke-width="22" opacity="0.55" filter="url(#bl3)"/>
<use href="#b-thin" stroke="#780000" stroke-width="14" opacity="0.3" filter="url(#bl3)"/>
<use href="#b-norm" stroke="#780000" stroke-width="18" opacity="0.38" filter="url(#bl3)"/>
<use href="#b-mid" stroke="#a00000" stroke-width="11" opacity="0.5" filter="url(#bl2)"/>
<use href="#b-bright" stroke="#b80000" stroke-width="15" opacity="0.6" filter="url(#bl2)"/>
<use href="#b-dim" stroke="#700000" stroke-width="12" opacity="0.3" filter="url(#bl3)"/>
<use href="#b-red" stroke="#700000" stroke-width="14" opacity="0.32" filter="url(#bl3)"/>
<use href="#b-redF" stroke="#840000" stroke-width="18" opacity="0.5" filter="url(#bl3)"/>
<use href="#b-fuzzy" stroke="#a00000" stroke-width="14" opacity="0.5" filter="url(#bl2)"/>
<use href="#b-orangeF" stroke="#a00000" stroke-width="12" opacity="0.55" filter="url(#bl2)"/>
<use href="#b-thin" stroke="#980000" stroke-width="8" opacity="0.45" filter="url(#bl2)"/>
<use href="#b-norm" stroke="#980000" stroke-width="10" opacity="0.5" filter="url(#bl2)"/>
<use href="#b-mid" stroke="#d40000" stroke-width="7.78" opacity="0.8" filter="url(#bl1)"/>
<use href="#b-bright" stroke="#d80000" stroke-width="11.93" opacity="0.8" filter="url(#bl1)"/>
<use href="#b-dim" stroke="#800000" stroke-width="8" opacity="0.4" filter="url(#bl2)"/>
<use href="#b-red" stroke="#880000" stroke-width="8" opacity="0.45" filter="url(#bl2)"/>
<use href="#b-redF" stroke="#900000" stroke-width="10" opacity="0.5" filter="url(#bl2)"/>
<use href="#b-fuzzy" stroke="#d40000" stroke-width="9.35" opacity="0.8" filter="url(#bl1)"/>
<use href="#b-orangeF" stroke="#c80000" stroke-width="7.7" opacity="0.75" filter="url(#bl1)"/>
<use href="#b-thin" stroke="#d00000" stroke-width="5.06" opacity="0.75" filter="url(#bl1)"/>
<use href="#b-norm" stroke="#d00000" stroke-width="7.5" opacity="0.8" filter="url(#bl1)"/>
<use href="#b-mid" stroke="#ff2800" stroke-width="4.97" opacity="1"/>
<use href="#b-bright" stroke="#ff2800" stroke-width="7.67" opacity="1"/>
<use href="#b-dim" stroke="#c00000" stroke-width="4.84" opacity="0.7" filter="url(#bl1)"/>
<use href="#b-red" stroke="#c00000" stroke-width="5.86" opacity="0.75" filter="url(#bl1)"/>
<use href="#b-redF" stroke="#b80000" stroke-width="6.6" opacity="0.7" filter="url(#bl1)"/>
<use href="#b-fuzzy" stroke="#f82000" stroke-width="5.5" opacity="0.95" filter="url(#bl1)"/>
<use href="#b-orangeF" stroke="#f01800" stroke-width="4.62" opacity="0.9" filter="url(#bl1)"/>
<use href="#b-thin" stroke="#ff3000" stroke-width="2.86" opacity="1"/>
<use href="#b-norm" stroke="#ff2800" stroke-width="4.38" opacity="1"/>
<use href="#b-mid" stroke="#ff8c00" stroke-width="3.46" opacity="1"/>
<use href="#b-bright" stroke="#ff8c00" stroke-width="5.54" opacity="1"/>
<use href="#b-faint" stroke="#600000" stroke-width="6" opacity="0.45" filter="url(#bl2)"/>
<use href="#b-faint2" stroke="#a00000" stroke-width="4.5" opacity="0.5" filter="url(#bl1)"/>
<use href="#b-dim" stroke="#f02000" stroke-width="2.42" opacity="1"/>
<use href="#b-red" stroke="#e81800" stroke-width="3.05" opacity="1"/>
<use href="#b-redF" stroke="#e01000" stroke-width="3.52" opacity="0.9" filter="url(#bl1)"/>
<use href="#b-fuzzy" stroke="#ff6a00" stroke-width="3.3" opacity="1" filter="url(#sb2)"/>
<use href="#b-orangeF" stroke="#ff5000" stroke-width="2.53" opacity="1" filter="url(#sb2)"/>
<use href="#b-thin" stroke="#ff9800" stroke-width="1.87" opacity="1"/>
<use href="#b-norm" stroke="#ff8c00" stroke-width="2.88" opacity="1"/>
<use href="#b-mid" stroke="#ffe000" stroke-width="2.27" opacity="1"/>
<use href="#b-bright" stroke="#ffe000" stroke-width="3.83" opacity="1"/>
<use href="#b-faint" stroke="#900000" stroke-width="1.8" opacity="0.7" filter="url(#bl1)"/>
<use href="#b-faint2" stroke="#d81000" stroke-width="1.7" opacity="0.9" filter="url(#sb2)"/>
<use href="#b-dots" stroke="#e02800" stroke-width="0.9" opacity="0.9" stroke-dasharray="1.7 1.5"/>
<use href="#b-dim" stroke="#ff5a00" stroke-width="1.1" opacity="0.9"/>
<use href="#b-red" stroke="#ff4000" stroke-width="1.34" opacity="0.8"/>
<use href="#b-redF" stroke="#f83800" stroke-width="1.54" opacity="0.85"/>
<use href="#b-fuzzy" stroke="#ffa000" stroke-width="1.65" opacity="1"/>
<use href="#b-orangeF" stroke="#ff8800" stroke-width="1.21" opacity="0.85"/>
<use href="#b-thin" stroke="#ffe400" stroke-width="0.94" opacity="1"/>
<use href="#b-norm" stroke="#ffdc00" stroke-width="1.5" opacity="1"/>
<use href="#b-mid" stroke="#ffff70" stroke-width="0.97" opacity="1"/>
<use href="#b-bright" stroke="#ffff70" stroke-width="1.85" opacity="1"/>
</g>
<ellipse cx="675.6" cy="56" rx="18.5" ry="14.5" fill="url(#blob)" style="mix-blend-mode:multiply"/>
<line x1="591.3" y1="100.7" x2="760.0" y2="100.7" stroke="#0000f0" stroke-width="1.7"/>
<line x1="591.3" y1="342.6" x2="760.0" y2="342.6" stroke="#1000e8" stroke-width="1.8"/>
</g>
<!-- panel b : spectrum box -->
<g filter="url(#sb)">
<path d="M431.2 5.5H590V390.7H431.2Z" fill="none" stroke="#000" stroke-width="1.8"/>
<line x1="590.3" y1="5" x2="590.3" y2="391.6" stroke="#000" stroke-width="2.3"/>
<line x1="585.6" y1="54.7" x2="590.0" y2="54.7" stroke="#000" stroke-width="2.5"/><line x1="585.6" y1="102.4" x2="590.0" y2="102.4" stroke="#000" stroke-width="2.5"/><line x1="585.6" y1="150.7" x2="590.0" y2="150.7" stroke="#000" stroke-width="2.5"/><line x1="585.6" y1="198.9" x2="590.0" y2="198.9" stroke="#000" stroke-width="2.5"/><line x1="585.6" y1="246.5" x2="590.0" y2="246.5" stroke="#000" stroke-width="2.5"/><line x1="585.6" y1="294.7" x2="590.0" y2="294.7" stroke="#000" stroke-width="2.5"/><line x1="585.6" y1="342.5" x2="590.0" y2="342.5" stroke="#000" stroke-width="2.5"/>
<path d="M575.0 7.5L575.4 7.9L574.9 8.6L574.1 9.2L574.0 10.1L573.2 10.8L572.5 11.8L572.7 12.5L573.0 13.5L572.6 14.3L571.7 14.9L571.5 15.8L570.9 16.7L570.3 17.6L570.3 18.5L570.3 19.2L570.2 20.0L570.0 20.7L570.3 21.6L570.2 22.3L569.5 23.0L569.0 23.6L569.2 24.4L569.2 25.1L569.1 26.0L567.4 26.7L567.6 27.3L567.5 27.7L566.1 28.3L566.0 28.7L564.8 29.3L565.0 29.9L563.7 30.4L562.7 30.9L562.7 31.5L562.0 32.1L560.9 32.7L559.9 33.2L559.0 33.7L558.3 34.2L558.6 34.8L557.6 35.2L556.7 35.5L556.7 36.0L555.4 36.5L554.5 36.8L554.4 37.2L553.4 37.6L552.3 38.1L551.5 38.5L550.9 38.9L551.0 39.3L550.1 39.8L548.9 40.1L548.8 40.6L547.5 40.9L547.1 41.5L545.9 41.9L545.8 42.2L544.8 42.5L543.5 43.1L542.7 43.5L541.9 43.9L541.5 44.2L540.5 44.8L539.4 45.1L539.1 45.6L538.7 45.9L538.4 46.3L536.9 46.7L536.3 47.0L535.3 47.5L535.0 47.8L534.2 48.3L534.3 48.6L533.8 48.9L532.2 49.3L530.8 50.0L530.6 50.5L529.3 50.9L528.8 51.4L528.1 51.9L527.1 52.2L527.2 52.7L527.0 53.0L526.7 53.4L525.9 53.6L525.3 54.6L524.6 55.3L525.2 55.8L525.4 56.1L525.7 56.5L525.7 56.9L527.6 57.3L529.5 57.5L530.1 57.6L530.3 57.7L530.4 57.8L530.7 57.9L531.8 57.9L533.0 58.0L533.9 58.2L534.4 58.1L535.1 58.3L535.8 58.3L537.5 58.5L538.2 58.6L538.9 58.6L539.5 58.6L541.1 58.8L542.4 58.8L543.1 58.9L543.4 59.0L544.8 59.1L545.8 59.2L546.1 59.1L546.9 59.2L547.5 59.3L548.7 59.4L549.3 59.5L550.9 59.5L551.0 59.5L552.5 59.5L553.4 59.7L553.8 59.8L554.1 59.7L555.2 59.8L556.6 59.9L556.9 59.9L558.1 60.0L559.0 60.1L560.1 60.3L560.9 60.2L561.4 60.2L561.4 60.4L562.6 60.4L563.0 60.5L564.5 60.6L565.6 60.8L566.3 60.9L567.8 60.8L569.0 61.1L569.0 61.1L570.0 61.3L570.6 61.4L571.9 61.5L572.9 61.6L573.4 61.7L574.0 62.1L574.4 62.2L574.9 62.8L576.3 63.4L576.6 64.0L576.7 64.7L577.4 65.5L577.0 66.5L577.3 67.2L577.5 67.8L577.9 68.6L578.1 69.5L577.7 70.5L577.2 71.2L577.3 72.3L577.8 73.2L578.1 74.1L578.2 75.0L577.3 75.9L577.0 76.7L577.1 77.6L577.4 78.5L576.8 79.3L577.1 80.4L576.4 81.3L576.9 82.1L576.6 82.9L576.4 83.7L576.3 84.4L576.6 85.2L576.0 85.9L575.7 87.0L575.7 87.7L575.4 88.5L575.6 89.2L574.7 90.0L574.1 90.7L574.6 91.5L574.3 92.1L573.8 93.0L574.3 93.7L574.2 94.5L573.3 95.4L573.2 96.4L572.6 97.1L571.8 97.8L571.2 98.4L570.9 99.1L570.8 99.9L570.3 100.7L570.0 101.4L569.2 102.2L569.1 103.0L569.0 103.7L568.7 104.3L568.2 105.1L567.8 105.6L566.7 106.4L565.7 107.0L565.8 107.4L564.7 108.2L564.0 108.6L563.9 109.2L563.6 109.7L562.6 110.4L561.3 110.9L561.2 111.6L561.2 111.9L560.3 112.6L559.6 113.0L558.6 113.4L557.7 113.9L557.5 114.5L557.1 114.9L556.1 115.4L556.0 116.1L555.7 116.4L554.1 117.1L553.3 117.5L552.3 117.9L551.8 118.2L551.3 118.4L550.9 118.9L549.6 119.1L549.3 119.4L548.1 119.6L547.4 119.9L547.1 120.4L546.4 120.7L545.5 120.9L544.6 121.2L544.1 121.5L542.6 121.8L542.0 122.0L541.4 122.2L540.8 122.6L539.8 122.8L539.0 123.0L538.2 123.2L536.9 123.5L535.5 123.8L535.1 124.1L534.0 124.4L533.6 124.5L532.9 124.8L532.0 125.0L531.7 125.3L530.8 125.6L530.3 125.7L529.2 126.1L527.8 126.2L526.5 126.4L525.8 126.6L525.0 126.9L524.5 127.1L524.5 127.3L524.1 127.5L523.4 127.5L522.1 127.9L520.2 128.1L518.9 128.2L517.7 128.4L517.1 128.5L516.8 128.7L515.6 128.9L514.5 129.0L513.9 129.2L512.8 129.3L512.1 129.3L511.6 129.5L511.2 129.8L511.4 130.0L512.7 130.0L514.4 130.4L514.8 130.6L516.2 130.7L518.0 130.9L518.5 131.2L518.7 131.4L518.8 131.6L518.1 131.7L517.4 131.9L516.2 132.0L515.5 132.2L514.5 132.5L513.5 132.6L512.6 132.9L511.9 133.1L511.3 133.4L510.1 133.5L508.3 133.9L507.8 134.0L506.7 134.1L506.1 134.4L505.2 134.7L504.4 134.8L502.9 135.2L502.5 135.4L500.7 135.5L499.7 135.8L499.1 136.0L498.3 136.2L496.9 136.6L496.5 136.8L495.8 137.0L495.0 137.2L495.1 137.5L494.2 137.5L494.7 138.0L495.5 138.2L496.3 138.5L497.8 138.8L499.0 139.2L499.5 139.4L500.3 139.9L500.1 140.3L499.5 141.0L498.9 141.5L498.7 142.2L498.1 142.9L497.2 143.5L496.1 143.9L495.0 144.0L494.8 144.4L493.7 144.5L492.8 144.9L491.8 145.0L491.2 145.4L490.6 145.7L489.8 145.9L488.8 146.1L487.2 146.4L486.8 146.7L485.4 146.8L484.5 147.1L483.8 147.3L483.0 147.5L483.2 147.7L483.4 147.9L482.7 148.2L483.6 148.3L483.4 148.5L484.4 148.6L486.0 148.8L487.2 148.7L488.0 149.0L488.5 149.0L490.0 149.3L490.5 149.4L491.2 149.6L492.4 149.6L493.0 150.2L493.9 150.7L494.4 151.2L495.5 151.8L495.8 152.3L496.5 152.9L497.5 153.3L498.2 153.7L499.0 154.0L499.8 154.3L500.7 154.5L501.1 154.8L502.1 155.0L502.6 155.2L503.7 155.6L504.2 155.6L504.7 155.9L505.7 156.2L506.4 156.3L507.3 156.5L509.1 156.6L509.5 156.9L510.6 157.2L510.8 157.3L511.1 157.5L511.2 158.2L510.9 158.6L509.6 159.3L508.5 160.1L508.1 160.8L508.7 161.6L508.5 162.6L509.4 163.4L509.6 164.6L509.7 165.3L509.2 166.3L509.3 167.3L508.4 168.3L507.6 169.2L508.7 169.7L508.5 169.9L509.1 170.1L510.1 170.2L510.4 170.2L511.0 170.3L512.5 170.4L513.3 170.6L513.7 170.6L514.3 170.7L514.9 170.7L516.7 170.8L517.1 170.7L518.6 170.7L519.6 170.9L521.2 171.0L522.3 171.0L523.3 171.1L524.2 171.1L524.9 171.2L525.3 171.3L525.4 171.4L526.1 171.3L526.6 171.4L527.7 171.6L528.6 171.6L529.2 171.6L530.3 171.8L531.8 171.8L532.0 171.8L533.3 171.8L534.3 171.9L534.5 172.1L536.0 172.0L536.9 172.1L537.5 172.2L538.1 172.2L538.9 172.3L539.4 172.3L540.6 172.4L541.8 172.5L542.5 172.6L543.7 172.6L544.0 172.8L545.3 173.1L545.8 173.1L547.2 173.3L547.5 173.4L548.1 173.5L549.0 173.7L550.4 173.9L551.0 174.2L551.9 174.4L552.1 174.5L552.5 174.7L553.5 175.4L554.9 176.1L555.4 176.8L555.0 177.5L555.2 178.3L555.1 179.0L555.7 179.9L556.3 180.8L555.6 181.7L555.8 182.5L554.7 183.3L553.8 183.7L554.2 184.0L553.8 184.4L552.6 184.8L552.3 185.0L551.0 185.3L550.6 185.7L549.5 186.1L548.5 186.2L547.0 186.6L545.5 186.9L545.3 186.9L545.0 186.9L544.9 187.2L544.4 187.2L543.0 187.3L542.1 187.4L541.3 187.5L541.2 187.5L540.4 187.5L539.0 187.6L539.1 187.9L538.3 187.8L537.5 188.0L536.4 188.0L535.8 188.0L534.4 188.1L533.2 188.2L532.7 188.2L531.9 188.3L531.1 188.4L530.3 188.4L529.5 188.5L529.0 188.6L527.7 188.7L526.7 188.8L525.9 188.9L524.7 189.0L524.1 189.0L522.7 189.0L522.1 189.1L521.3 189.1L520.4 189.2L519.5 189.1L519.1 189.3L518.6 189.3L518.0 189.3L517.1 189.2L515.7 189.4L515.0 189.4L513.8 189.5L513.3 189.4L512.4 189.5L511.5 189.5L511.4 189.7L510.7 189.7L509.6 189.7L508.4 189.8L507.8 189.8L506.5 189.8L505.5 189.8L505.6 189.7L504.3 189.8L503.4 189.8L503.2 190.0L502.1 189.9L501.3 189.9L499.8 190.1L499.0 190.1L498.9 190.2L497.9 190.1L496.8 190.2L496.5 190.1L495.9 190.2L494.8 190.2L494.3 190.4L492.8 190.3L491.6 190.4L490.5 190.3L490.3 190.4L490.0 190.5L489.2 190.4L488.4 190.6L487.3 190.4L486.0 190.5L485.6 190.5L484.3 190.6L483.8 190.7L482.8 190.7L482.4 190.7L481.0 190.7L480.8 190.8L479.4 190.8L478.1 190.9L477.4 190.9L476.7 190.8L476.1 190.9L474.9 191.0L473.7 190.9L473.4 190.9L472.3 191.0L471.2 191.1L471.3 191.0L470.2 191.2L469.2 191.2L468.4 191.1L467.7 191.2L466.7 191.2L466.3 191.2L465.4 191.3L464.8 191.3L464.4 191.2L463.6 191.3L462.7 191.3L461.6 191.4L461.2 191.5L459.9 191.4L459.0 191.5L458.5 191.4L458.0 191.5L457.0 191.6L455.5 191.5L454.0 191.6L453.1 191.6L452.0 191.7L450.6 191.8L449.9 191.7L449.3 191.7L447.6 191.7L446.2 191.7L445.6 191.8L444.4 191.8L443.2 191.9L442.2 191.8L441.3 191.9L441.3 191.9L440.0 191.9L439.4 191.9L439.6 191.9L438.9 192.1L439.0 192.0L438.3 192.1L437.4 192.0L438.0 192.1L437.8 192.2L437.8 192.1L437.6 192.4L438.5 192.4L438.7 192.3L439.4 192.4L440.0 192.6L440.6 192.5L442.1 192.6L442.1 192.6L443.3 192.6L444.1 192.8L445.6 192.9L446.9 192.9L447.5 193.0L448.3 193.1L449.1 193.0L450.0 193.2L450.9 193.1L452.0 193.3L453.2 193.3L455.2 193.5L456.5 193.4L457.1 193.4L458.2 193.6L458.7 193.6L459.2 193.7L460.1 193.9L461.3 193.8L461.8 193.9L463.0 194.0L464.6 194.2L466.1 194.2L466.5 194.5L466.8 194.8L467.6 194.9L468.5 194.9L469.0 195.2L469.2 195.4L470.2 195.6L470.7 196.0L471.6 196.4L472.4 197.1L473.0 197.8L472.7 198.4L473.1 199.2L473.9 199.8L475.7 200.3L475.8 200.6L476.1 200.7L476.3 201.0L477.4 201.2L478.8 201.2L479.5 201.5L479.7 201.6L480.8 201.8L481.9 201.8L482.7 201.9L483.2 202.1L483.5 202.3L484.4 202.4L485.2 202.5L486.3 202.7L487.0 202.9L487.9 202.9L489.0 203.1L489.7 203.2L491.0 203.3L492.1 203.3L492.8 203.4L493.2 203.5L493.9 203.6L495.3 203.7L496.3 203.7L497.0 203.8L498.9 203.9L499.6 204.0L500.4 204.1L501.8 204.3L502.8 204.2L504.4 204.3L505.3 204.4L506.0 204.4L506.6 204.6L508.0 204.5L509.1 204.5L509.1 204.7L509.6 204.7L510.9 204.7L510.8 204.8L511.5 204.9L511.1 205.0L511.4 205.0L511.7 205.2L511.7 205.3L511.5 205.5L511.5 205.4L510.4 205.7L509.4 205.7L508.9 205.8L508.4 205.9L506.6 206.0L505.6 206.0L504.3 206.1L503.5 206.2L501.9 206.2L500.7 206.3L499.7 206.4L498.2 206.5L497.0 206.7L495.9 206.8L495.9 206.9L494.8 207.1L494.6 207.0L493.4 207.2L493.0 207.3L492.2 207.3L491.4 207.4L490.1 207.6L489.7 207.8L488.7 207.8L487.9 207.9L487.2 208.1L485.6 208.1L485.1 208.2L483.8 208.2L483.2 208.5L483.0 208.5L482.2 208.6L481.4 208.8L481.0 209.0L479.4 209.0L478.0 209.1L476.8 209.4L476.5 209.5L475.0 209.7L474.0 210.0L472.7 210.2L472.2 210.5L470.9 210.6L470.3 210.9L470.2 211.0L469.7 211.2L469.6 211.3L468.8 211.4L469.6 211.6L469.7 211.6L469.9 211.7L470.6 211.8L471.6 211.9L472.1 212.1L473.0 212.1L473.6 212.1L475.5 212.2L476.0 212.3L477.2 212.5L478.0 212.6L479.2 212.5L480.6 212.6L480.7 212.7L481.8 212.8L482.7 213.1L484.5 213.3L485.3 213.4L486.5 213.4L486.6 213.6L487.0 213.8L487.6 214.1L487.7 214.3L487.2 214.5L487.8 214.7L487.1 215.1L486.5 215.4L485.2 215.7L484.5 216.0L483.7 216.1L482.7 216.5L481.8 216.6L481.1 216.7L479.9 216.9L478.4 217.1L477.5 217.4L476.1 217.6L474.8 217.7L474.4 217.9L472.7 218.0L472.2 218.2L471.7 218.4L471.1 218.5L469.9 218.6L469.7 218.9L469.3 219.0L469.7 219.0L470.2 219.3L470.4 219.3L470.9 219.4L471.2 219.5L472.2 219.5L472.8 219.4L474.1 219.4L474.7 219.6L476.3 219.6L476.7 219.6L478.4 219.6L479.3 219.7L480.3 219.7L481.3 219.9L482.6 220.0L483.3 220.0L483.7 220.2L485.1 220.2L486.2 220.3L486.7 220.3L487.5 220.5L488.3 220.5L489.1 220.7L489.9 220.8L491.2 220.8L491.6 221.1L492.6 221.1L493.5 221.4L494.0 221.5L494.3 221.7L495.3 221.6L496.7 221.8L497.9 222.0L498.8 222.1L499.9 222.1L500.7 222.4L500.8 222.6L501.5 222.6L502.7 222.7L503.0 222.9L503.3 223.0L504.7 223.1L505.1 223.3L506.4 223.4L507.0 223.6L508.0 223.5L508.5 223.7L508.9 223.9L510.5 224.1L510.9 224.1L511.8 224.3L513.0 224.5L513.4 224.6L514.1 224.6L515.7 224.8L516.1 224.9L517.0 224.9L517.6 225.0L518.7 225.2L519.5 225.4L519.8 225.4L520.8 225.6L521.0 225.7L522.3 226.0L522.6 226.0L524.3 226.5L525.1 226.9L525.4 227.3L525.5 227.9L526.2 228.4L526.8 228.8L527.5 229.4L528.0 229.9L528.6 230.4L529.2 230.9L529.8 231.4L531.0 231.7L532.2 232.2L533.0 232.8L533.4 233.1L533.9 233.7L534.6 234.3L535.1 234.7L536.2 235.0L536.8 235.4L538.0 235.7L538.5 236.1L539.8 236.4L540.6 236.6L540.9 236.8L541.5 236.9L542.6 237.1L543.9 237.2L545.2 237.4L545.0 237.5L545.7 237.6L546.1 237.9L546.3 238.5L545.9 239.3L545.1 239.9L544.1 240.6L543.7 241.3L543.3 241.5L544.1 241.9L545.1 242.2L546.2 242.3L547.2 242.6L548.8 242.7L549.0 243.1L549.3 243.4L548.8 243.5L548.8 243.6L547.8 243.7L546.7 243.9L546.8 244.0L545.3 244.0L544.7 244.2L543.3 244.4L542.4 244.4L541.1 244.6L539.9 244.6L539.3 244.7L538.8 244.8L537.6 244.9L536.5 245.1L535.9 245.2L535.5 245.2L534.7 245.2L534.0 245.4L532.4 245.5L531.6 245.7L530.1 245.5L528.5 245.8L527.9 245.8L526.4 245.9L525.1 245.9L524.3 246.1L524.0 246.2L522.8 246.1L521.9 246.2L521.3 246.4L521.2 246.4L521.4 246.5L522.0 246.5L521.8 246.7L521.8 246.6L522.5 246.6L522.7 246.7L523.4 246.7L524.1 246.8L524.4 247.0L525.1 246.9L526.6 246.9L527.4 246.9L528.6 247.0L529.9 247.0L531.4 247.2L531.7 247.2L533.6 247.2L534.5 247.4L535.2 247.4L535.9 247.4L536.9 247.5L537.4 247.6L538.6 247.8L539.1 247.8L540.1 248.0L541.7 248.1L543.1 248.3L543.4 248.5L543.8 248.7L545.2 248.8L545.5 249.1L546.6 249.2L546.4 249.5L546.5 249.7L547.3 250.5L547.2 251.0L547.1 252.0L546.5 252.8L546.7 254.0L546.9 254.6L547.6 255.0L548.0 255.6L548.4 256.2L548.6 256.8L548.6 257.4L549.7 258.0L549.8 258.9L550.8 259.5L551.0 260.1L551.6 260.9L552.4 261.6L552.7 262.1L553.4 262.9L553.6 263.5L554.3 264.0L554.9 264.8L555.7 265.6L556.2 266.3L556.5 267.0L556.6 267.6L556.9 268.3L557.4 268.9L557.8 269.5L558.7 270.1L559.3 270.8L560.5 271.4L561.0 272.1L562.1 272.6L562.5 273.2L562.5 273.9L563.1 274.4L563.0 275.1L563.6 275.7L564.1 276.4L564.7 277.2L565.5 277.7L565.6 278.3L566.0 279.0L565.8 279.9L565.5 280.6L566.1 281.3L566.2 282.1L567.1 283.1L567.4 283.9L567.6 284.9L567.0 285.7L567.3 286.3L567.6 287.1L568.0 287.9L568.0 288.5L568.3 289.3L567.7 290.1L567.9 290.8L567.5 291.6L567.6 292.5L567.4 293.3L567.2 294.3L567.2 295.1L567.3 296.1L568.0 297.0L568.4 298.1L568.3 299.0L568.5 300.0L568.5 300.8L568.6 301.4L567.8 302.4L567.9 303.1L567.7 303.9L567.9 304.8L568.6 305.7L568.6 306.5L568.2 307.6L567.9 308.5L568.4 309.2L568.9 310.1L568.8 311.1L569.3 312.0L569.4 312.9L569.3 313.8L568.4 314.8L569.1 315.7L569.4 316.5L569.1 317.2L569.0 318.0L568.9 318.8L568.8 319.5L569.0 320.2L568.8 320.8L568.7 321.5L569.2 322.9L568.3 324.1L568.0 325.2L568.5 326.2L568.6 327.0L568.4 327.7L567.1 328.3L567.1 328.9L567.0 329.5L567.2 329.9L566.3 331.2L564.8 331.7L564.8 332.3L563.9 332.6L565.0 332.8L565.8 332.5L567.0 332.8L566.8 334.3L567.4 335.0L567.7 335.4L567.3 336.0L566.7 336.8L566.6 337.5L566.9 338.3L567.2 339.2L566.8 340.2L566.4 340.9L566.3 341.9L566.9 342.9L566.5 343.9L566.2 344.9L566.1 345.9L565.9 346.7L565.9 347.7L566.4 348.7L566.8 349.5L566.1 350.4L565.9 351.1L566.1 352.0L566.1 352.5L566.8 353.3L566.6 353.6L567.4 355.0L567.6 355.7L568.1 356.0L569.1 356.4L569.9 356.6L570.1 356.7L570.9 357.1L572.2 357.9L571.9 358.6L572.8 359.3L572.6 359.9L572.3 360.5L573.2 361.1L572.7 361.9L573.4 362.7L573.9 363.4L573.5 364.2L573.3 365.3L572.9 366.0L573.2 366.9L573.3 367.9L573.2 369.0L573.7 370.0L574.3 370.7L574.8 371.3L574.2 372.1L574.1 373.1L574.8 373.9L574.3 374.8L574.6 375.7L575.1 376.8L575.0 377.6L575.4 378.6L574.9 379.6L575.6 380.4L575.8 381.4L575.1 382.3L574.9 383.3L574.9 384.1L574.9 385.1L575.3 385.9L575.5 386.5L575.1 387.2L575.0 387.9L575.6 388.5L575.8 389.1L575.7 389.5" fill="none" stroke="#0000f8" stroke-width="3.2" stroke-linejoin="round" stroke-linecap="round"/>
</g>

<g clip-path="url(#cB2)">
<line x1="589.9" y1="3" x2="619.0" y2="392" stroke="#30c030" stroke-width="1.0"/>
<line x1="591.6" y1="3" x2="620.7" y2="392" stroke="#fff" stroke-width="3.1"/>
<line x1="760.9" y1="3" x2="731.1" y2="392" stroke="#fff" stroke-width="3.1"/>
</g>
<!-- labels -->
<text transform="translate(335.9 53.1) rotate(-90) scale(1.000 1)" font-size="16.5" text-anchor="middle">1.1</text>
<text transform="translate(335.9 147.6) rotate(-90) scale(1.000 1)" font-size="16.5" text-anchor="middle">1.0</text>
<text transform="translate(335.9 245.6) rotate(-90) scale(1.000 1)" font-size="16.5" text-anchor="middle">0.9</text>
<text transform="translate(335.9 343.9) rotate(-90) scale(1.000 1)" font-size="16.5" text-anchor="middle">0.8</text>
<text transform="translate(362.0 201.3) rotate(-90) scale(0.968 1)" font-size="24" text-anchor="middle">Photon energy, eV</text>
<text transform="translate(778.6 52.8) rotate(-90) scale(1.000 1)" font-size="16.5" text-anchor="middle">1.1</text>
<text transform="translate(778.6 148.4) rotate(-90) scale(1.000 1)" font-size="16.5" text-anchor="middle">1.0</text>
<text transform="translate(778.6 247.4) rotate(-90) scale(1.000 1)" font-size="16.5" text-anchor="middle">0.9</text>
<text transform="translate(778.6 345.8) rotate(-90) scale(1.000 1)" font-size="16.5" text-anchor="middle">0.8</text>
<text transform="translate(804.0 200.8) rotate(-90) scale(0.968 1)" font-size="24" text-anchor="middle">Photon energy, eV</text>
<text transform="translate(178.3 404.8) scale(1.200 1)" font-size="15" text-anchor="middle">-1</text>
<text transform="translate(237.3 404.8) scale(1.200 1)" font-size="15" text-anchor="middle">0</text>
<text transform="translate(290.7 405.8) scale(1.200 1)" font-size="15" text-anchor="middle">1</text>
<text transform="translate(619.2 409.3) scale(1.200 1)" font-size="15" text-anchor="middle">-1</text>
<text transform="translate(676.1 409.3) scale(1.200 1)" font-size="15" text-anchor="middle">0</text>
<text transform="translate(730.6 410.4) scale(1.200 1)" font-size="15" text-anchor="middle">1</text>
<text x="155.7" y="424.8" font-size="17" textLength="14.2" lengthAdjust="spacingAndGlyphs" font-style="italic">M</text>
<text x="168.1" y="425.2" font-size="26">←</text>
<text x="193.2" y="424.8" font-size="17" textLength="10.8" lengthAdjust="spacingAndGlyphs">Γ</text>
<text x="207.5" y="424.8" font-size="17" textLength="7.5" lengthAdjust="spacingAndGlyphs" font-style="italic">k</text>
<text x="215.7" y="430.7" font-size="13.4" textLength="5.4" lengthAdjust="spacingAndGlyphs">‖</text>
<text x="223.8" y="424.8" font-size="17" textLength="29.2" lengthAdjust="spacingAndGlyphs">(μm</text>
<text x="253.6" y="420.3" font-size="9.5" textLength="9.0" lengthAdjust="spacingAndGlyphs">-1</text>
<text x="262.7" y="424.8" font-size="17" textLength="6.5" lengthAdjust="spacingAndGlyphs">)</text>
<text x="272.7" y="424.8" font-size="17" textLength="10.3" lengthAdjust="spacingAndGlyphs">Γ</text>
<text x="277.7" y="425.2" font-size="26">→</text>
<text x="304.3" y="424.8" font-size="17" textLength="12.0" lengthAdjust="spacingAndGlyphs" font-style="italic">K</text>
<text x="601.0" y="427.2" font-size="17" textLength="14.2" lengthAdjust="spacingAndGlyphs" font-style="italic">M</text>
<text x="613.4" y="427.6" font-size="26">←</text>
<text x="638.5" y="427.2" font-size="17" textLength="10.8" lengthAdjust="spacingAndGlyphs">Γ</text>
<text x="652.8" y="427.2" font-size="17" textLength="7.5" lengthAdjust="spacingAndGlyphs" font-style="italic">k</text>
<text x="661.0" y="433.1" font-size="13.4" textLength="5.4" lengthAdjust="spacingAndGlyphs">‖</text>
<text x="669.1" y="427.2" font-size="17" textLength="29.2" lengthAdjust="spacingAndGlyphs">(μm</text>
<text x="698.9" y="422.7" font-size="9.5" textLength="9.0" lengthAdjust="spacingAndGlyphs">-1</text>
<text x="708.0" y="427.2" font-size="17" textLength="6.5" lengthAdjust="spacingAndGlyphs">)</text>
<text x="718.0" y="427.2" font-size="17" textLength="10.3" lengthAdjust="spacingAndGlyphs">Γ</text>
<text x="723.0" y="427.6" font-size="26">→</text>
<text x="749.6" y="427.2" font-size="17" textLength="12.0" lengthAdjust="spacingAndGlyphs" font-style="italic">K</text>
<text transform="translate(186.0 454.9) scale(1.000 1)" font-size="16.5" text-anchor="middle">(<tspan stroke="#000" stroke-width="0.45">a</tspan>)</text>
<text transform="translate(622.0 454.9) scale(1.000 1)" font-size="16.5" text-anchor="middle">(<tspan stroke="#000" stroke-width="0.45">b</tspan>)</text>
</svg>
</body></html>
